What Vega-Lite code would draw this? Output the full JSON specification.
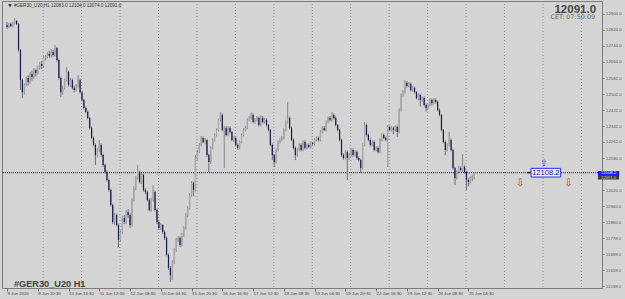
{
  "$schema": "https://vega.github.io/schema/vega-lite/v6.json",
  "width": 600,
  "height": 287,
  "autosize": {"type": "none"},
  "padding": {"left": 2, "top": 1, "right": 23, "bottom": 11},
  "background": "#d4d4d4",
  "config": {
    "view": {"stroke": "#7c7c7c", "strokeWidth": 1, "fill": "#d4d4d4"},
    "font": "Liberation Sans",
    "axis": {"labelFont": "Liberation Sans"}
  },
  "resolve": {"axis": {"x": "independent", "y": "independent"}},
  "datasets": {
    "bars": [
      {"i":0,"o":12849,"h":12864,"l":12829,"c":12839},
      {"i":1,"o":12839,"h":12859,"l":12834,"c":12854},
      {"i":2,"o":12854,"h":12861,"l":12838,"c":12844},
      {"i":3,"o":12844,"h":12864,"l":12839,"c":12859},
      {"i":4,"o":12859,"h":12884,"l":12853,"c":12869},
      {"i":5,"o":12869,"h":12874,"l":12848,"c":12854},
      {"i":6,"o":12854,"h":12858,"l":12715,"c":12723},
      {"i":7,"o":12723,"h":12728,"l":12523,"c":12573},
      {"i":8,"o":12573,"h":12580,"l":12482,"c":12512},
      {"i":9,"o":12512,"h":12556,"l":12500,"c":12548},
      {"i":10,"o":12548,"h":12590,"l":12540,"c":12583},
      {"i":11,"o":12583,"h":12596,"l":12545,"c":12563},
      {"i":12,"o":12563,"h":12612,"l":12555,"c":12603},
      {"i":13,"o":12603,"h":12620,"l":12570,"c":12588},
      {"i":14,"o":12588,"h":12633,"l":12580,"c":12623},
      {"i":15,"o":12623,"h":12630,"l":12590,"c":12608},
      {"i":16,"o":12608,"h":12645,"l":12600,"c":12633},
      {"i":17,"o":12633,"h":12663,"l":12625,"c":12653},
      {"i":18,"o":12653,"h":12668,"l":12628,"c":12643},
      {"i":19,"o":12643,"h":12693,"l":12635,"c":12683},
      {"i":20,"o":12683,"h":12698,"l":12670,"c":12688},
      {"i":21,"o":12688,"h":12713,"l":12680,"c":12703},
      {"i":22,"o":12703,"h":12718,"l":12685,"c":12693},
      {"i":23,"o":12693,"h":12728,"l":12685,"c":12713},
      {"i":24,"o":12713,"h":12723,"l":12690,"c":12698},
      {"i":25,"o":12698,"h":12748,"l":12690,"c":12733},
      {"i":26,"o":12733,"h":12738,"l":12665,"c":12673},
      {"i":27,"o":12673,"h":12680,"l":12575,"c":12583},
      {"i":28,"o":12583,"h":12590,"l":12487,"c":12512},
      {"i":29,"o":12512,"h":12545,"l":12500,"c":12533},
      {"i":30,"o":12533,"h":12580,"l":12525,"c":12573},
      {"i":31,"o":12573,"h":12638,"l":12565,"c":12613},
      {"i":32,"o":12613,"h":12620,"l":12540,"c":12548},
      {"i":33,"o":12548,"h":12583,"l":12538,"c":12573},
      {"i":34,"o":12573,"h":12580,"l":12525,"c":12533},
      {"i":35,"o":12533,"h":12545,"l":12510,"c":12523},
      {"i":36,"o":12523,"h":12553,"l":12515,"c":12543},
      {"i":37,"o":12543,"h":12598,"l":12535,"c":12573},
      {"i":38,"o":12573,"h":12580,"l":12505,"c":12512},
      {"i":39,"o":12512,"h":12518,"l":12465,"c":12472},
      {"i":40,"o":12472,"h":12478,"l":12425,"c":12432},
      {"i":41,"o":12432,"h":12440,"l":12405,"c":12412},
      {"i":42,"o":12412,"h":12420,"l":12375,"c":12382},
      {"i":43,"o":12382,"h":12388,"l":12325,"c":12332},
      {"i":44,"o":12332,"h":12340,"l":12275,"c":12282},
      {"i":45,"o":12282,"h":12290,"l":12240,"c":12247},
      {"i":46,"o":12247,"h":12255,"l":12146,"c":12196},
      {"i":47,"o":12196,"h":12230,"l":12185,"c":12222},
      {"i":48,"o":12222,"h":12272,"l":12212,"c":12247},
      {"i":49,"o":12247,"h":12255,"l":12188,"c":12196},
      {"i":50,"o":12196,"h":12203,"l":12138,"c":12146},
      {"i":51,"o":12146,"h":12153,"l":12103,"c":12111},
      {"i":52,"o":12111,"h":12118,"l":12063,"c":12071},
      {"i":53,"o":12071,"h":12078,"l":12013,"c":12021},
      {"i":54,"o":12021,"h":12028,"l":11938,"c":11946},
      {"i":55,"o":11946,"h":11953,"l":11850,"c":11860},
      {"i":56,"o":11860,"h":11905,"l":11845,"c":11895},
      {"i":57,"o":11895,"h":11903,"l":11838,"c":11845},
      {"i":58,"o":11845,"h":11852,"l":11735,"c":11770},
      {"i":59,"o":11770,"h":11818,"l":11760,"c":11810},
      {"i":60,"o":11810,"h":11890,"l":11800,"c":11880},
      {"i":61,"o":11880,"h":11895,"l":11850,"c":11860},
      {"i":62,"o":11860,"h":11920,"l":11850,"c":11911},
      {"i":63,"o":11911,"h":11925,"l":11880,"c":11895},
      {"i":64,"o":11895,"h":11903,"l":11830,"c":11845},
      {"i":65,"o":11845,"h":11980,"l":11838,"c":11971},
      {"i":66,"o":11971,"h":12040,"l":11963,"c":12031},
      {"i":67,"o":12031,"h":12090,"l":12020,"c":12081},
      {"i":68,"o":12081,"h":12146,"l":12073,"c":12111},
      {"i":69,"o":12111,"h":12118,"l":12053,"c":12061},
      {"i":70,"o":12061,"h":12106,"l":12050,"c":12096},
      {"i":71,"o":12096,"h":12103,"l":12013,"c":12021},
      {"i":72,"o":12021,"h":12030,"l":12000,"c":12011},
      {"i":73,"o":12011,"h":12018,"l":11963,"c":11971},
      {"i":74,"o":11971,"h":11980,"l":11913,"c":11921},
      {"i":75,"o":11921,"h":11980,"l":11913,"c":11971},
      {"i":76,"o":11971,"h":12046,"l":11963,"c":12011},
      {"i":77,"o":12011,"h":12018,"l":11913,"c":11921},
      {"i":78,"o":11921,"h":11928,"l":11850,"c":11860},
      {"i":79,"o":11860,"h":11868,"l":11820,"c":11830},
      {"i":80,"o":11830,"h":11855,"l":11820,"c":11845},
      {"i":81,"o":11845,"h":11850,"l":11800,"c":11810},
      {"i":82,"o":11810,"h":11818,"l":11770,"c":11780},
      {"i":83,"o":11780,"h":11788,"l":11688,"c":11695},
      {"i":84,"o":11695,"h":11703,"l":11620,"c":11630},
      {"i":85,"o":11630,"h":11640,"l":11559,"c":11594},
      {"i":86,"o":11594,"h":11668,"l":11570,"c":11660},
      {"i":87,"o":11660,"h":11728,"l":11650,"c":11720},
      {"i":88,"o":11720,"h":11780,"l":11710,"c":11770},
      {"i":89,"o":11770,"h":11790,"l":11760,"c":11780},
      {"i":90,"o":11780,"h":11788,"l":11735,"c":11745},
      {"i":91,"o":11745,"h":11805,"l":11738,"c":11795},
      {"i":92,"o":11795,"h":11840,"l":11785,"c":11830},
      {"i":93,"o":11830,"h":11905,"l":11822,"c":11895},
      {"i":94,"o":11895,"h":11940,"l":11885,"c":11931},
      {"i":95,"o":11931,"h":12005,"l":11923,"c":11996},
      {"i":96,"o":11996,"h":12065,"l":11988,"c":12056},
      {"i":97,"o":12056,"h":12063,"l":11990,"c":12021},
      {"i":98,"o":12021,"h":12196,"l":12013,"c":12181},
      {"i":99,"o":12181,"h":12222,"l":12173,"c":12212},
      {"i":100,"o":12212,"h":12257,"l":12205,"c":12247},
      {"i":101,"o":12247,"h":12292,"l":12240,"c":12282},
      {"i":102,"o":12282,"h":12290,"l":12255,"c":12262},
      {"i":103,"o":12262,"h":12282,"l":12250,"c":12272},
      {"i":104,"o":12272,"h":12278,"l":12188,"c":12196},
      {"i":105,"o":12196,"h":12203,"l":12111,"c":12161},
      {"i":106,"o":12161,"h":12240,"l":12153,"c":12232},
      {"i":107,"o":12232,"h":12280,"l":12225,"c":12272},
      {"i":108,"o":12272,"h":12305,"l":12265,"c":12297},
      {"i":109,"o":12297,"h":12330,"l":12290,"c":12322},
      {"i":110,"o":12322,"h":12380,"l":12315,"c":12372},
      {"i":111,"o":12372,"h":12412,"l":12365,"c":12397},
      {"i":112,"o":12397,"h":12405,"l":12315,"c":12322},
      {"i":113,"o":12322,"h":12342,"l":12131,"c":12332},
      {"i":114,"o":12332,"h":12340,"l":12290,"c":12297},
      {"i":115,"o":12297,"h":12342,"l":12290,"c":12332},
      {"i":116,"o":12332,"h":12340,"l":12305,"c":12312},
      {"i":117,"o":12312,"h":12318,"l":12265,"c":12272},
      {"i":118,"o":12272,"h":12292,"l":12262,"c":12282},
      {"i":119,"o":12282,"h":12290,"l":12240,"c":12247},
      {"i":120,"o":12247,"h":12255,"l":12222,"c":12232},
      {"i":121,"o":12232,"h":12270,"l":12225,"c":12262},
      {"i":122,"o":12262,"h":12305,"l":12255,"c":12297},
      {"i":123,"o":12297,"h":12330,"l":12290,"c":12322},
      {"i":124,"o":12322,"h":12342,"l":12315,"c":12332},
      {"i":125,"o":12332,"h":12380,"l":12325,"c":12372},
      {"i":126,"o":12372,"h":12392,"l":12365,"c":12382},
      {"i":127,"o":12382,"h":12410,"l":12375,"c":12397},
      {"i":128,"o":12397,"h":12405,"l":12355,"c":12362},
      {"i":129,"o":12362,"h":12382,"l":12352,"c":12372},
      {"i":130,"o":12372,"h":12392,"l":12365,"c":12382},
      {"i":131,"o":12382,"h":12390,"l":12340,"c":12347},
      {"i":132,"o":12347,"h":12395,"l":12340,"c":12382},
      {"i":133,"o":12382,"h":12392,"l":12355,"c":12362},
      {"i":134,"o":12362,"h":12382,"l":12355,"c":12372},
      {"i":135,"o":12372,"h":12380,"l":12340,"c":12347},
      {"i":136,"o":12347,"h":12352,"l":12315,"c":12322},
      {"i":137,"o":12322,"h":12328,"l":12240,"c":12247},
      {"i":138,"o":12247,"h":12255,"l":12171,"c":12196},
      {"i":139,"o":12196,"h":12203,"l":12136,"c":12161},
      {"i":140,"o":12161,"h":12230,"l":12153,"c":12222},
      {"i":141,"o":12222,"h":12270,"l":12215,"c":12262},
      {"i":142,"o":12262,"h":12282,"l":12255,"c":12272},
      {"i":143,"o":12272,"h":12292,"l":12265,"c":12282},
      {"i":144,"o":12282,"h":12330,"l":12275,"c":12322},
      {"i":145,"o":12322,"h":12370,"l":12315,"c":12362},
      {"i":146,"o":12362,"h":12462,"l":12355,"c":12382},
      {"i":147,"o":12382,"h":12390,"l":12325,"c":12332},
      {"i":148,"o":12332,"h":12340,"l":12265,"c":12272},
      {"i":149,"o":12272,"h":12280,"l":12225,"c":12232},
      {"i":150,"o":12232,"h":12240,"l":12171,"c":12196},
      {"i":151,"o":12196,"h":12230,"l":12188,"c":12222},
      {"i":152,"o":12222,"h":12255,"l":12215,"c":12247},
      {"i":153,"o":12247,"h":12255,"l":12215,"c":12222},
      {"i":154,"o":12222,"h":12270,"l":12215,"c":12262},
      {"i":155,"o":12262,"h":12270,"l":12225,"c":12232},
      {"i":156,"o":12232,"h":12255,"l":12225,"c":12247},
      {"i":157,"o":12247,"h":12255,"l":12230,"c":12237},
      {"i":158,"o":12237,"h":12265,"l":12230,"c":12257},
      {"i":159,"o":12257,"h":12262,"l":12245,"c":12252},
      {"i":160,"o":12252,"h":12280,"l":12245,"c":12272},
      {"i":161,"o":12272,"h":12290,"l":12265,"c":12282},
      {"i":162,"o":12282,"h":12290,"l":12265,"c":12272},
      {"i":163,"o":12272,"h":12320,"l":12265,"c":12312},
      {"i":164,"o":12312,"h":12340,"l":12305,"c":12332},
      {"i":165,"o":12332,"h":12342,"l":12315,"c":12322},
      {"i":166,"o":12322,"h":12370,"l":12315,"c":12362},
      {"i":167,"o":12362,"h":12390,"l":12355,"c":12382},
      {"i":168,"o":12382,"h":12392,"l":12365,"c":12372},
      {"i":169,"o":12372,"h":12412,"l":12365,"c":12397},
      {"i":170,"o":12397,"h":12405,"l":12375,"c":12382},
      {"i":171,"o":12382,"h":12390,"l":12340,"c":12347},
      {"i":172,"o":12347,"h":12352,"l":12315,"c":12322},
      {"i":173,"o":12322,"h":12328,"l":12265,"c":12272},
      {"i":174,"o":12272,"h":12278,"l":12188,"c":12196},
      {"i":175,"o":12196,"h":12205,"l":12173,"c":12181},
      {"i":176,"o":12181,"h":12220,"l":12175,"c":12212},
      {"i":177,"o":12212,"h":12220,"l":12071,"c":12181},
      {"i":178,"o":12181,"h":12205,"l":12173,"c":12196},
      {"i":179,"o":12196,"h":12230,"l":12188,"c":12222},
      {"i":180,"o":12222,"h":12230,"l":12188,"c":12196},
      {"i":181,"o":12196,"h":12220,"l":12188,"c":12212},
      {"i":182,"o":12212,"h":12220,"l":12173,"c":12181},
      {"i":183,"o":12181,"h":12190,"l":12163,"c":12171},
      {"i":184,"o":12171,"h":12178,"l":12106,"c":12131},
      {"i":185,"o":12131,"h":12255,"l":12125,"c":12247},
      {"i":186,"o":12247,"h":12362,"l":12240,"c":12347},
      {"i":187,"o":12347,"h":12355,"l":12290,"c":12297},
      {"i":188,"o":12297,"h":12305,"l":12265,"c":12272},
      {"i":189,"o":12272,"h":12280,"l":12240,"c":12247},
      {"i":190,"o":12247,"h":12270,"l":12240,"c":12262},
      {"i":191,"o":12262,"h":12270,"l":12215,"c":12222},
      {"i":192,"o":12222,"h":12240,"l":12215,"c":12232},
      {"i":193,"o":12232,"h":12240,"l":12205,"c":12212},
      {"i":194,"o":12212,"h":12280,"l":12205,"c":12272},
      {"i":195,"o":12272,"h":12305,"l":12265,"c":12297},
      {"i":196,"o":12297,"h":12305,"l":12275,"c":12282},
      {"i":197,"o":12282,"h":12290,"l":12265,"c":12272},
      {"i":198,"o":12146,"h":12347,"l":12136,"c":12337},
      {"i":199,"o":12337,"h":12345,"l":12315,"c":12322},
      {"i":200,"o":12322,"h":12340,"l":12315,"c":12332},
      {"i":201,"o":12332,"h":12340,"l":12300,"c":12322},
      {"i":202,"o":12322,"h":12345,"l":12315,"c":12337},
      {"i":203,"o":12337,"h":12345,"l":12287,"c":12312},
      {"i":204,"o":12312,"h":12430,"l":12305,"c":12422},
      {"i":205,"o":12422,"h":12505,"l":12415,"c":12497},
      {"i":206,"o":12497,"h":12522,"l":12490,"c":12512},
      {"i":207,"o":12512,"h":12573,"l":12505,"c":12558},
      {"i":208,"o":12558,"h":12568,"l":12535,"c":12543},
      {"i":209,"o":12543,"h":12563,"l":12535,"c":12553},
      {"i":210,"o":12553,"h":12560,"l":12515,"c":12523},
      {"i":211,"o":12523,"h":12543,"l":12515,"c":12533},
      {"i":212,"o":12533,"h":12540,"l":12505,"c":12512},
      {"i":213,"o":12512,"h":12518,"l":12475,"c":12482},
      {"i":214,"o":12482,"h":12505,"l":12470,"c":12497},
      {"i":215,"o":12497,"h":12505,"l":12440,"c":12472},
      {"i":216,"o":12472,"h":12490,"l":12465,"c":12482},
      {"i":217,"o":12482,"h":12490,"l":12440,"c":12447},
      {"i":218,"o":12447,"h":12455,"l":12415,"c":12432},
      {"i":219,"o":12432,"h":12455,"l":12425,"c":12447},
      {"i":220,"o":12447,"h":12480,"l":12440,"c":12472},
      {"i":221,"o":12472,"h":12480,"l":12445,"c":12457},
      {"i":222,"o":12457,"h":12482,"l":12450,"c":12472},
      {"i":223,"o":12472,"h":12480,"l":12455,"c":12462},
      {"i":224,"o":12462,"h":12470,"l":12415,"c":12422},
      {"i":225,"o":12422,"h":12430,"l":12390,"c":12397},
      {"i":226,"o":12397,"h":12403,"l":12315,"c":12322},
      {"i":227,"o":12322,"h":12328,"l":12255,"c":12262},
      {"i":228,"o":12262,"h":12270,"l":12196,"c":12222},
      {"i":229,"o":12222,"h":12255,"l":12215,"c":12247},
      {"i":230,"o":12247,"h":12312,"l":12240,"c":12272},
      {"i":231,"o":12272,"h":12280,"l":12215,"c":12222},
      {"i":232,"o":12222,"h":12228,"l":12123,"c":12131},
      {"i":233,"o":12131,"h":12138,"l":12046,"c":12081},
      {"i":234,"o":12081,"h":12120,"l":12073,"c":12111},
      {"i":235,"o":12111,"h":12140,"l":12103,"c":12131},
      {"i":236,"o":12131,"h":12140,"l":12113,"c":12121},
      {"i":237,"o":12121,"h":12201,"l":12113,"c":12136},
      {"i":238,"o":12136,"h":12145,"l":12103,"c":12111},
      {"i":239,"o":12111,"h":12118,"l":12021,"c":12071},
      {"i":240,"o":12071,"h":12080,"l":12040,"c":12061},
      {"i":241,"o":12061,"h":12090,"l":12050,"c":12081},
      {"i":242,"o":12081,"h":12095,"l":12065,"c":12083},
      {"i":243,"o":12083,"h":12104,"l":12074,"c":12091}
    ],
    "grid": [
      {"g":18.8},{"g":38.8},{"g":58.8},{"g":78.8},{"g":98.8},{"g":118.8},{"g":138.8},{"g":158.8},
      {"g":178.8},{"g":198.8},{"g":218.8},{"g":238.8},{"g":258.8},{"g":278.8},{"g":298.8}
    ],
    "one": [{}]
  },
  "layer": [
    {
      "data": {"name": "grid"},
      "mark": {"type": "rule", "color": "#8e8e8e", "strokeWidth": 1, "strokeDash": [1, 2]},
      "encoding": {
        "x": {
          "field": "g", "type": "quantitative",
          "scale": {"domain": [0, 306.9], "nice": false, "zero": false},
          "axis": {
            "orient": "bottom", "title": null, "grid": false, "domain": false,
            "values": [0,16,32,48,64,80,96,112,128,144,160,176,192,208,224,240],
            "labelExpr": "['9 Jun 2020','9 Jun 20:30','10 Jun 16:30','11 Jun 12:30','12 Jun 08:30','15 Jun 04:30','15 Jun 20:30','16 Jun 16:30','17 Jun 12:30','18 Jun 08:30','19 Jun 04:30','19 Jun 20:30','22 Jun 16:30','23 Jun 12:30','24 Jun 08:30','25 Jun 04:30'][round(datum.value/16)]",
            "labelAlign": "left", "labelBaseline": "top", "labelFontSize": 4.3, "labelColor": "#3c3c3c",
            "labelPadding": 0.5, "labelOverlap": false, "labelFlush": false, "labelBound": false, "labelDx": 1,
            "tickSize": 3, "tickColor": "#707070", "tickWidth": 1
          }
        }
      }
    },
    {
      "data": {"name": "one"},
      "mark": {"type": "rule", "color": "#1c1cff", "strokeWidth": 1.1, "strokeDash": [1, 1]},
      "encoding": {
        "y": {
          "datum": 12108.2, "type": "quantitative",
          "scale": {"domain": [11529.3, 12969.2], "nice": false, "zero": false},
          "axis": {
            "orient": "right", "title": null, "grid": false, "domain": false,
            "values": [12904,12824,12744,12664,12582,12502,12422,12342,12262,12180,12020,11940,11860,11778,11698,11618,11538],
            "format": ".1f", "labelFontSize": 4.3, "labelColor": "#555555", "labelPadding": 1.5,
            "labelOverlap": false, "labelFlush": false, "labelBound": false,
            "tickSize": 2, "tickColor": "#707070"
          }
        }
      }
    },
    {
      "data": {"name": "bars"},
      "mark": {"type": "rule", "strokeWidth": 1},
      "encoding": {
        "x": {"field": "i", "type": "quantitative", "axis": null},
        "y": {"field": "l", "type": "quantitative", "axis": null},
        "y2": {"field": "h"},
        "color": {"condition": {"test": "datum.c >= datum.o", "value": "#848484"}, "value": "#6a6a80"}
      }
    },
    {
      "data": {"name": "bars"},
      "mark": {"type": "bar", "size": 1.2},
      "encoding": {
        "x": {"field": "i", "type": "quantitative", "axis": null},
        "y": {"field": "o", "type": "quantitative", "axis": null},
        "y2": {"field": "c"},
        "color": {"condition": {"test": "datum.c >= datum.o", "value": "#a8a8a8"}, "value": "#1a1a4e"}
      }
    },
    {
      "data": {"name": "one"},
      "mark": {"type": "rule", "color": "#202020", "strokeWidth": 1.5},
      "encoding": {
        "x": {"datum": 270.6, "type": "quantitative", "axis": null},
        "x2": {"datum": 272.6},
        "y": {"datum": 12108.2, "type": "quantitative", "axis": null}
      }
    },
    {
      "data": {"name": "one"},
      "mark": {"type": "rect", "fill": "#eeeef8", "stroke": "#2a2aff", "strokeWidth": 1},
      "encoding": {
        "x": {"datum": 272.6, "type": "quantitative", "axis": null},
        "x2": {"datum": 288},
        "y": {"datum": 12129.7, "type": "quantitative", "axis": null},
        "y2": {"datum": 12086}
      }
    },
    {
      "data": {"name": "one"},
      "mark": {"type": "text", "text": "12108.2", "font": "Liberation Sans", "fontSize": 7.6, "color": "#1414b4", "align": "center", "baseline": "middle"},
      "encoding": {
        "x": {"datum": 280.3, "type": "quantitative", "axis": null},
        "y": {"datum": 12107, "type": "quantitative", "axis": null}
      }
    },
    {
      "data": {"name": "one"},
      "mark": {"type": "text", "text": "⇧", "font": "DejaVu Sans", "fontSize": 9, "color": "#2a2aff", "align": "center", "baseline": "bottom"},
      "encoding": {
        "x": {"datum": 279.3, "type": "quantitative", "axis": null},
        "y": {"datum": 12131, "type": "quantitative", "axis": null}
      }
    },
    {
      "data": {"name": "one"},
      "mark": {"type": "text", "text": "⇩", "font": "DejaVu Sans", "fontSize": 10, "color": "#e02020", "align": "center", "baseline": "middle"},
      "encoding": {
        "x": {"datum": 267, "type": "quantitative", "axis": null},
        "y": {"datum": 12058, "type": "quantitative", "axis": null}
      }
    },
    {
      "data": {"name": "one"},
      "mark": {"type": "text", "text": "⇩", "font": "DejaVu Sans", "fontSize": 10, "color": "#e02020", "align": "center", "baseline": "middle"},
      "encoding": {
        "x": {"datum": 292.1, "type": "quantitative", "axis": null},
        "y": {"datum": 12058, "type": "quantitative", "axis": null}
      }
    },
    {
      "data": {"name": "one"},
      "mark": {"type": "rect", "fill": "#1a1aff"},
      "encoding": {
        "x": {"datum": 307.4, "type": "quantitative", "axis": null},
        "x2": {"datum": 318.4},
        "y": {"datum": 12116.3, "type": "quantitative", "axis": null},
        "y2": {"datum": 12091.5}
      }
    },
    {
      "data": {"name": "one"},
      "mark": {"type": "rect", "fill": "#3c3c3c"},
      "encoding": {
        "x": {"datum": 307.4, "type": "quantitative", "axis": null},
        "x2": {"datum": 318.4},
        "y": {"datum": 12091.5, "type": "quantitative", "axis": null},
        "y2": {"datum": 12073.6}
      }
    },
    {
      "data": {"name": "one"},
      "mark": {"type": "text", "text": "12108.2", "font": "Liberation Sans", "fontSize": 4.3, "color": "#ffffff", "align": "center", "baseline": "middle"},
      "encoding": {
        "x": {"datum": 312.9, "type": "quantitative", "axis": null},
        "y": {"datum": 12104.5, "type": "quantitative", "axis": null}
      }
    },
    {
      "data": {"name": "one"},
      "mark": {"type": "text", "text": "12091.0", "font": "Liberation Sans", "fontSize": 4, "color": "#c8c8c8", "align": "center", "baseline": "middle"},
      "encoding": {
        "x": {"datum": 312.9, "type": "quantitative", "axis": null},
        "y": {"datum": 12082, "type": "quantitative", "axis": null}
      }
    },
    {
      "data": {"name": "one"},
      "mark": {"type": "text", "text": "12091.0", "font": "Liberation Sans", "fontWeight": "bold", "fontSize": 11.5, "color": "#454545", "align": "right", "baseline": "alphabetic"},
      "encoding": {
        "x": {"datum": 306.4, "type": "quantitative", "axis": null},
        "y": {"datum": 12910.5, "type": "quantitative", "axis": null}
      }
    },
    {
      "data": {"name": "one"},
      "mark": {"type": "text", "text": "CET:  07:50:09", "font": "DejaVu Sans", "fontSize": 6.4, "color": "#606060", "align": "right", "baseline": "alphabetic"},
      "encoding": {
        "x": {"datum": 305.9, "type": "quantitative", "axis": null},
        "y": {"datum": 12877.5, "type": "quantitative", "axis": null}
      }
    },
    {
      "data": {"name": "one"},
      "mark": {"type": "text", "text": "▼", "font": "DejaVu Sans", "fontSize": 4.5, "color": "#303030", "align": "left", "baseline": "alphabetic"},
      "encoding": {
        "x": {"datum": 0.6, "type": "quantitative", "axis": null},
        "y": {"datum": 12938, "type": "quantitative", "axis": null}
      }
    },
    {
      "data": {"name": "one"},
      "mark": {"type": "text", "text": "#GER30_U20,H1  12083.0 12104.0 12074.0 12091.0", "font": "Liberation Sans", "fontSize": 4.6, "color": "#303030", "align": "left", "baseline": "alphabetic"},
      "encoding": {
        "x": {"datum": 3.6, "type": "quantitative", "axis": null},
        "y": {"datum": 12937, "type": "quantitative", "axis": null}
      }
    },
    {
      "data": {"name": "one"},
      "mark": {"type": "text", "text": "#GER30_U20 H1", "font": "Liberation Sans", "fontWeight": "bold", "fontSize": 9.2, "color": "#404040", "align": "left", "baseline": "alphabetic"},
      "encoding": {
        "x": {"datum": 3.6, "type": "quantitative", "axis": null},
        "y": {"datum": 11536, "type": "quantitative", "axis": null}
      }
    }
  ]
}
